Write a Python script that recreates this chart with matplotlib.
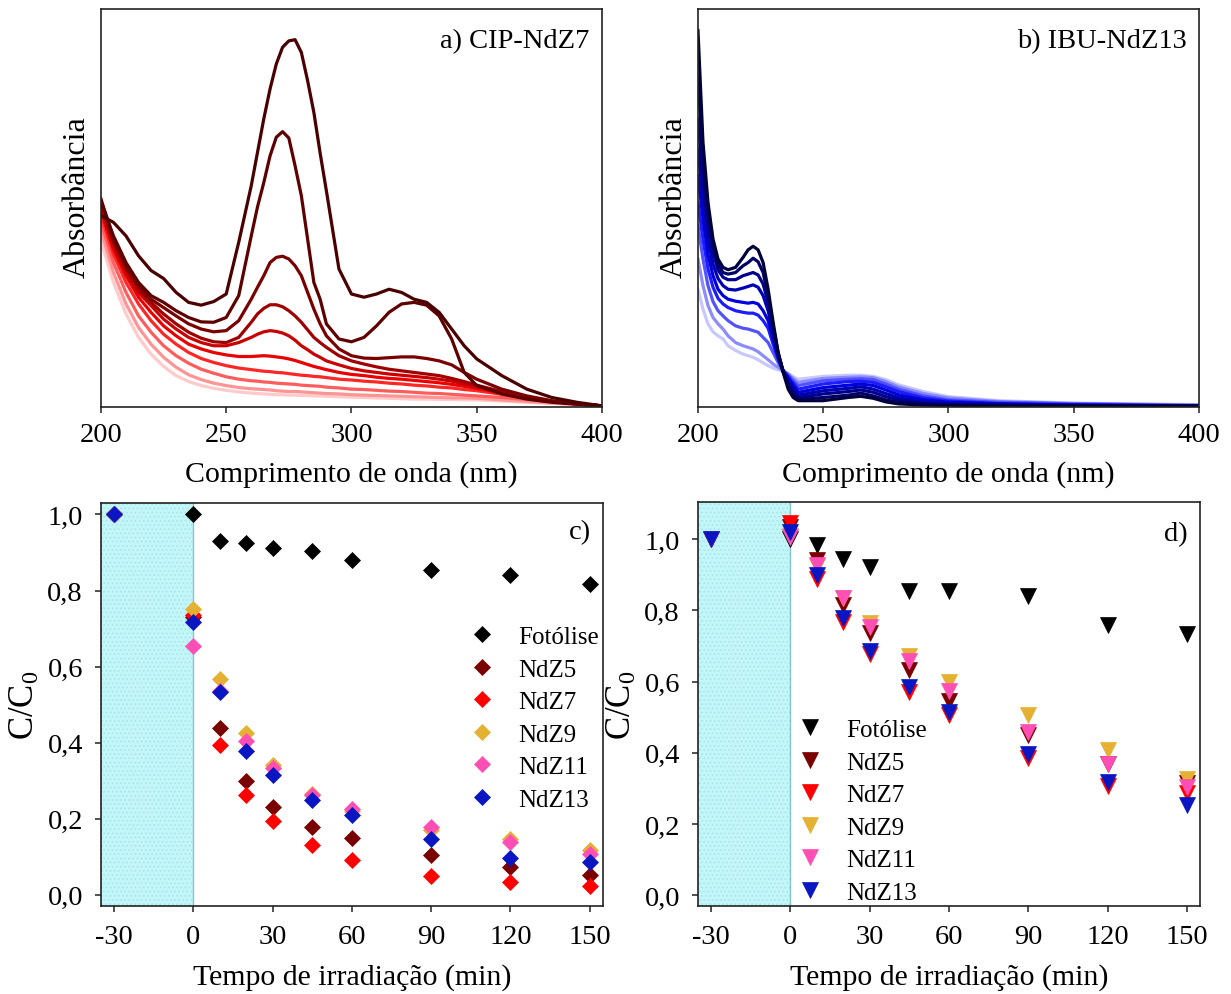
import matplotlib
matplotlib.use('Agg')
import matplotlib.pyplot as plt

plt.rcParams['font.family'] = ['Liberation Serif', 'DejaVu Serif']
plt.rcParams['mathtext.fontset'] = 'custom'
plt.rcParams['mathtext.rm'] = 'Liberation Serif'
plt.rcParams['mathtext.it'] = 'Liberation Serif:italic'
plt.rcParams['axes.unicode_minus'] = False
plt.rcParams['hatch.linewidth'] = 0.6

# ---------------- a) CIP-NdZ7 spectra (absorbance, arbitrary units) ----------------
wl_cip = [200, 205, 210, 215, 220, 225, 230, 235, 240, 245, 250, 255, 260, 262.5,
          265, 267.5, 270, 272.5, 275, 277.5, 280, 282.5, 285, 287.5, 290, 295,
          300, 305, 310, 315, 320, 325, 330, 335, 340, 345, 350, 360, 370, 380,
          390, 400]
cip_1 = [48.1, 46.4, 43.0, 38.0, 34.3, 32.3, 28.8, 26.3, 25.6, 26.5, 28.4, 41.4,
         55.6, 64.0, 72.4, 79.9, 86.2, 90.4, 92.0, 92.3, 89.1, 82.0, 74.0, 63.8,
         54.3, 34.7, 28.4, 27.6, 28.4, 29.6, 28.8, 27.1, 26.3, 23.8, 19.6, 15.4,
         12.1, 7.9, 4.5, 2.4, 1.2, 0.3]
cip_2 = [51.8, 43.0, 36.3, 31.3, 28.0, 26.3, 24.2, 22.5, 21.4, 21.3, 22.5, 28.0,
         43.0, 50.3, 56.4, 63.1, 67.8, 69.2, 67.6, 60.6, 53.1, 42.2, 31.3, 27.1,
         20.9, 17.1, 16.4, 17.5, 20.4, 23.8, 25.9, 26.3, 25.6, 22.9, 17.1, 8.7,
         5.4, 3.3, 2.0, 1.2, 0.7, 0.3]
cip_3 = [52.3, 42.2, 35.5, 30.5, 27.1, 25.0, 22.9, 20.9, 19.6, 18.9, 19.2, 21.7,
         27.1, 30.1, 33.0, 36.3, 37.6, 37.9, 37.2, 35.5, 33.0, 28.8, 24.6, 20.9,
         17.9, 14.6, 12.9, 12.3, 12.2, 12.4, 12.6, 12.6, 12.2, 11.6, 10.6, 8.7,
         7.0, 4.5, 2.8, 1.6, 0.8, 0.3]
cip_4 = [51.0, 41.4, 34.7, 29.6, 26.3, 23.4, 20.9, 18.8, 17.3, 16.4, 16.2, 17.5,
         21.3, 23.4, 24.8, 25.7, 25.7, 25.2, 24.2, 22.9, 21.3, 19.4, 17.5, 16.2,
         15.0, 12.9, 11.6, 10.8, 10.1, 9.5, 9.1, 8.7, 8.3, 7.9, 7.2, 6.4,
         5.5, 3.9, 2.4, 1.4, 0.8, 0.3]
cip_5 = [50.2, 40.5, 33.8, 28.8, 25.5, 22.1, 19.6, 17.5, 16.2, 15.4, 15.4, 16.2,
         17.5, 18.3, 18.9, 19.2, 19.0, 18.6, 17.9, 16.8, 15.4, 14.4, 13.3, 12.5,
         11.6, 10.6, 9.7, 9.1, 8.7, 8.3, 8.0, 7.7, 7.4, 7.0, 6.5, 5.8,
         5.1, 3.7, 2.4, 1.4, 0.8, 0.3]
cip_6 = [49.3, 39.7, 33.0, 27.6, 23.8, 20.4, 17.9, 15.8, 14.6, 13.7, 13.1, 12.7,
         12.7, 12.8, 12.9, 12.8, 12.6, 12.4, 12.1, 11.7, 11.2, 10.7, 10.2, 9.8,
         9.4, 8.7, 8.2, 7.9, 7.5, 7.2, 7.0, 6.7, 6.4, 6.1, 5.7, 5.2,
         4.7, 3.5, 2.3, 1.4, 0.8, 0.3]
cip_7 = [48.1, 38.4, 31.3, 25.9, 21.7, 18.3, 15.8, 13.7, 12.2, 11.2, 10.4, 9.8,
         9.4, 9.2, 9.0, 8.9, 8.7, 8.6, 8.4, 8.2, 8.0, 7.9, 7.7, 7.6,
         7.4, 7.0, 6.8, 6.5, 6.3, 6.0, 5.8, 5.5, 5.3, 5.0, 4.8, 4.4,
         4.1, 3.2, 2.3, 1.4, 0.8, 0.3]
cip_8 = [46.4, 36.3, 28.8, 22.9, 18.8, 15.4, 12.9, 11.0, 9.5, 8.5, 7.6, 7.0,
         6.6, 6.5, 6.3, 6.2, 6.0, 5.9, 5.8, 5.7, 5.5, 5.4, 5.3, 5.2,
         5.0, 4.8, 4.5, 4.4, 4.2, 4.0, 3.9, 3.7, 3.5, 3.4, 3.2, 3.0,
         2.8, 2.4, 1.9, 1.3, 0.8, 0.3]
cip_9 = [44.3, 33.8, 25.9, 20.0, 15.8, 12.5, 10.0, 8.1, 6.9, 6.0, 5.4, 4.9,
         4.6, 4.5, 4.4, 4.3, 4.1, 4.0, 3.9, 3.9, 3.8, 3.7, 3.6, 3.5,
         3.4, 3.3, 3.1, 3.0, 2.9, 2.8, 2.7, 2.6, 2.5, 2.4, 2.3, 2.3,
         2.2, 1.8, 1.4, 1.0, 0.7, 0.3]
cip_10 = [41.8, 31.3, 23.4, 17.5, 13.3, 10.2, 7.9, 6.4, 5.4, 4.7, 4.2, 3.8,
          3.5, 3.4, 3.3, 3.2, 3.1, 3.1, 3.0, 3.0, 2.9, 2.9, 2.8, 2.8,
          2.7, 2.6, 2.5, 2.4, 2.3, 2.2, 2.1, 2.0, 2.0, 1.9, 1.9, 1.8,
          1.8, 1.5, 1.2, 0.9, 0.6, 0.3]
cip_colors = ['#4a0000', '#5e0000', '#7a0000', '#a00000', '#c80000',
              '#ea0000', '#ff2626', '#ff5c5c', '#ff9494', '#ffcaca']

# ---------------- b) IBU-NdZ13 spectra ----------------
wl_ibu = [200, 202, 204, 206, 208, 210, 212, 215, 218, 220, 222, 224, 226, 228,
          230, 232, 234, 236, 238, 240, 250, 260, 265, 270, 275, 280, 290, 300,
          320, 350, 400]
ibu_1 = [94.6, 66.5, 51.4, 42.2, 37.2, 35.1, 34.5, 35.1, 37.6, 39.5, 40.4, 39.5,
         36.3, 29.6, 21.3, 13.7, 8.7, 4.5, 2.4, 1.6, 1.6, 2.4, 2.7, 2.2, 1.3,
         0.8, 0.5, 0.4, 0.3, 0.3, 0.2]
ibu_2 = [83.2, 62.3, 48.9, 41.0, 35.9, 33.8, 33.4, 33.8, 35.5, 36.3, 37.4, 36.5,
         33.8, 28.0, 20.4, 13.7, 8.9, 5.4, 3.3, 2.0, 2.4, 3.0, 3.5, 2.8, 1.8,
         1.2, 0.7, 0.5, 0.4, 0.3, 0.2]
ibu_3 = [72.4, 57.3, 45.6, 38.9, 34.5, 32.6, 32.0, 32.0, 33.0, 33.4, 33.8, 33.2,
         30.9, 26.3, 19.6, 13.3, 9.0, 6.0, 3.9, 2.4, 3.3, 3.9, 4.3, 3.7, 2.6,
         1.8, 0.9, 0.7, 0.5, 0.3, 0.2]
ibu_4 = [64.8, 52.3, 42.2, 35.9, 32.3, 30.5, 29.6, 29.4, 29.9, 30.3, 30.7, 30.1,
         28.0, 24.2, 18.3, 12.9, 9.0, 6.6, 4.7, 3.0, 4.1, 4.7, 5.1, 4.5, 3.4,
         2.4, 1.3, 0.8, 0.6, 0.4, 0.3]
ibu_5 = [58.1, 47.2, 38.4, 33.0, 29.6, 28.0, 27.1, 26.6, 26.3, 26.1, 26.3, 25.9,
         24.2, 21.7, 17.1, 12.5, 9.1, 7.2, 5.4, 3.7, 4.9, 5.5, 5.8, 5.4, 4.3,
         3.1, 1.8, 1.2, 0.8, 0.5, 0.3]
ibu_6 = [51.4, 42.2, 34.7, 30.1, 27.3, 25.9, 25.0, 24.2, 23.8, 23.6, 23.6, 23.1,
         21.7, 19.8, 15.8, 12.1, 9.1, 7.7, 6.0, 4.5, 5.8, 6.4, 6.5, 6.2, 5.1,
         3.9, 2.3, 1.5, 0.9, 0.6, 0.3]
ibu_7 = [45.6, 37.2, 30.5, 26.5, 24.2, 22.9, 21.7, 20.4, 19.8, 19.6, 19.2, 18.8,
         17.5, 16.2, 13.7, 11.2, 9.1, 8.0, 6.6, 5.4, 6.6, 7.0, 7.1, 6.9, 5.8,
         4.5, 2.8, 1.8, 1.2, 0.8, 0.4]
ibu_8 = [37.2, 30.5, 25.5, 22.5, 20.9, 19.6, 17.9, 16.2, 15.4, 15.0, 14.6, 13.9,
         12.9, 11.9, 10.8, 10.0, 9.1, 8.3, 7.2, 6.2, 7.2, 7.5, 7.6, 7.4, 6.4,
         5.1, 3.4, 2.3, 1.4, 0.9, 0.5]
ibu_9 = [29.6, 24.6, 20.9, 18.9, 17.9, 17.1, 15.4, 14.2, 13.3, 12.9, 12.5, 11.9,
         11.1, 10.4, 9.8, 9.4, 9.0, 8.5, 7.6, 7.0, 7.7, 8.0, 8.0, 7.7, 6.9,
         5.6, 3.9, 2.6, 1.6, 1.0, 0.6]
ibu_colors = ['#00003f', '#000066', '#00008c', '#0000b4', '#0000dc',
              '#1c1cff', '#5252ff', '#8c8cff', '#c8c8ff']

# ---------------- c) and d) kinetics (C/C0) ----------------
time_min = [-30, 0, 10, 20, 30, 45, 60, 90, 120, 150]
series_names = ['Fotólise', 'NdZ5', 'NdZ7', 'NdZ9', 'NdZ11', 'NdZ13']
series_colors = ['#000000', '#7a0000', '#ff0000', '#e5b133', '#ff4fb5', '#0a16c2']

cip_fotolise = [1.0, 1.0, 0.931, 0.925, 0.912, 0.905, 0.880, 0.855, 0.840, 0.816]
cip_ndz5 = [1.0, 0.730, 0.439, 0.298, 0.231, 0.177, 0.149, 0.105, 0.073, 0.051]
cip_ndz7 = [1.0, 0.735, 0.393, 0.263, 0.193, 0.130, 0.090, 0.048, 0.033, 0.023]
cip_ndz9 = [1.0, 0.751, 0.568, 0.424, 0.340, 0.264, 0.220, 0.170, 0.146, 0.118]
cip_ndz11 = [1.0, 0.655, 0.535, 0.404, 0.334, 0.262, 0.226, 0.178, 0.139, 0.108]
cip_ndz13 = [1.0, 0.718, 0.533, 0.378, 0.316, 0.250, 0.209, 0.147, 0.097, 0.086]

ibu_fotolise = [1.0, 1.0, 0.984, 0.944, 0.921, 0.855, 0.855, 0.841, 0.760, 0.734]
ibu_ndz5 = [1.0, 1.033, 0.941, 0.815, 0.736, 0.634, 0.545, 0.449, 0.370, 0.315]
ibu_ndz7 = [1.0, 1.045, 0.888, 0.767, 0.678, 0.572, 0.505, 0.386, 0.307, 0.286]
ibu_ndz9 = [1.0, 1.010, 0.925, 0.835, 0.765, 0.671, 0.600, 0.507, 0.407, 0.328]
ibu_ndz11 = [1.0, 1.005, 0.927, 0.834, 0.753, 0.657, 0.573, 0.458, 0.368, 0.304]
ibu_ndz13 = [1.0, 1.020, 0.899, 0.778, 0.687, 0.586, 0.514, 0.398, 0.318, 0.255]

wl_ticks = [200, 250, 300, 350, 400]
time_ticks = [-30, 0, 30, 60, 90, 120, 150]
ratio_ticks = [0.0, 0.2, 0.4, 0.6, 0.8, 1.0]
ratio_labels = ['0,0', '0,2', '0,4', '0,6', '0,8', '1,0']

TICK_SIZE = 20.5
LABEL_SIZE = 21.5


def style_axes(ax, pad):
    """Box spines and outward ticks used by every panel"""
    for spine in ax.spines.values():
        spine.set_linewidth(1.2)
        spine.set_color('#222222')
    ax.tick_params(direction='out', length=4.5, width=1.1, labelsize=TICK_SIZE,
                   pad=pad, color='#222222')


def draw_spectra(ax, wl, spectra, colors, title):
    """Draw the UV-vis spectra, lightest curve first"""
    for values, color in zip(spectra[::-1], colors[::-1]):
        ax.plot(wl, values, color=color, lw=2.3, solid_joinstyle='round')
    ax.set_xlim(200, 400)
    ax.set_ylim(0, 100)
    ax.set_xticks(wl_ticks)
    ax.set_yticks([])
    ax.set_xlabel('Comprimento de onda (nm)', fontsize=LABEL_SIZE, labelpad=10)
    ax.set_ylabel('Absorbância', fontsize=23)
    ax.yaxis.set_label_coords(-0.019, 0.53)
    ax.text(0.975, 0.92, title, transform=ax.transAxes, ha='right',
            va='center', fontsize=20.5)
    style_axes(ax, 6)


def draw_kinetics(ax, series, marker, ms, ylim, title, title_y, legend_pos):
    """Draw C/C0 versus irradiation time with the dark period shaded"""
    # Dark adsorption period
    ax.axvspan(-35, 0, facecolor='#c3f6f8', edgecolor='#a3e4e8', hatch='....',
               lw=0, zorder=0)
    ax.axvline(0, color='#86c4c8', lw=1.0, zorder=0.5)
    for name, values, color in zip(series_names, series, series_colors):
        ax.plot(time_min, values, ls='none', marker=marker, ms=ms,
                color=color, mec=color, mew=0.5, label=name)
    ax.set_xlim(-35, 155)
    ax.set_ylim(*ylim)
    ax.set_xticks(time_ticks)
    ax.set_yticks(ratio_ticks)
    ax.set_yticklabels(ratio_labels)
    ax.set_xlabel('Tempo de irradiação (min)', fontsize=LABEL_SIZE, labelpad=10)
    ax.set_ylabel('C/C$_\\mathrm{0}$', fontsize=25, labelpad=4)
    ax.text(0.976, title_y, title, transform=ax.transAxes, ha='right',
            va='center', fontsize=20.5)
    ax.legend(loc='upper left', bbox_to_anchor=legend_pos, frameon=False,
              fontsize=18, handlelength=1.5, handletextpad=0.7,
              labelspacing=0.4, borderaxespad=0, borderpad=0)
    style_axes(ax, 8.5)


fig = plt.figure(figsize=(12.31, 9.95), dpi=100)
ax_a = fig.add_axes([0.0820, 0.5899, 0.4070, 0.4000])
ax_b = fig.add_axes([0.5670, 0.5899, 0.4070, 0.4000])
ax_c = fig.add_axes([0.0820, 0.0884, 0.4078, 0.4050])
ax_d = fig.add_axes([0.5670, 0.0884, 0.4078, 0.4060])

draw_spectra(ax_a, wl_cip,
             [cip_1, cip_2, cip_3, cip_4, cip_5, cip_6, cip_7, cip_8, cip_9, cip_10],
             cip_colors, 'a) CIP-NdZ7')
draw_spectra(ax_b, wl_ibu,
             [ibu_1, ibu_2, ibu_3, ibu_4, ibu_5, ibu_6, ibu_7, ibu_8, ibu_9],
             ibu_colors, 'b) IBU-NdZ13')

draw_kinetics(ax_c, [cip_fotolise, cip_ndz5, cip_ndz7, cip_ndz9, cip_ndz11, cip_ndz13],
              'D', 7.8, (-0.03, 1.03), 'c)', 0.928, (0.721, 0.696))
draw_kinetics(ax_d, [ibu_fotolise, ibu_ndz5, ibu_ndz7, ibu_ndz9, ibu_ndz11, ibu_ndz13],
              'v', 11.5, (-0.03, 1.104), 'd)', 0.921, (0.185, 0.464))

fig.savefig('out.png', dpi=100)
